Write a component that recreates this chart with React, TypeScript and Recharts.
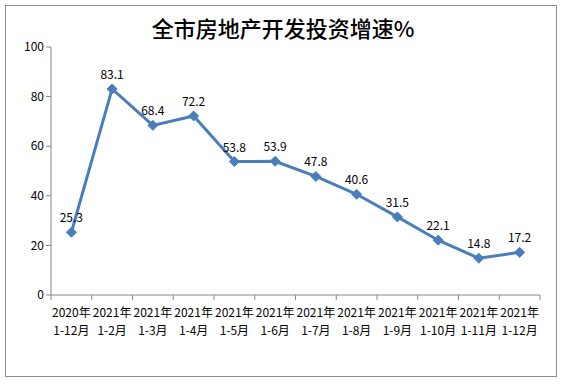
import { LineChart, Line, XAxis, YAxis, LabelList } from 'recharts'

const periods = [
  '2020年|1-12月',
  '2021年|1-2月',
  '2021年|1-3月',
  '2021年|1-4月',
  '2021年|1-5月',
  '2021年|1-6月',
  '2021年|1-7月',
  '2021年|1-8月',
  '2021年|1-9月',
  '2021年|1-10月',
  '2021年|1-11月',
  '2021年|1-12月'
]
const growth = [25.3, 83.1, 68.4, 72.2, 53.8, 53.9, 47.8, 40.6, 31.5, 22.1, 14.8, 17.2]
const yTicks = [0, 20, 40, 60, 80, 100]

const data = periods.map((p, i) => ({ name: p, value: growth[i] }))

const W = 566
const H = 386
const margin = { top: 47, right: 26, bottom: 0, left: 11 }
const yAxisWidth = 40
const step = (W - margin.left - margin.right - yAxisWidth) / periods.length
const font = '"Noto Sans CJK SC", "Noto Sans", sans-serif'

function PeriodTick(props: any) {
  const { x, y, payload, index } = props
  const [year, months] = String(payload.value).split('|')
  return (
    <g>
      <line x1={x - step / 2} y1={y - 8} x2={x - step / 2} y2={y - 3} stroke="#868686" />
      {index === periods.length - 1 && (
        <line x1={x + step / 2} y1={y - 8} x2={x + step / 2} y2={y - 3} stroke="#868686" />
      )}
      <text x={x} y={y + 14} textAnchor="middle" fontSize={12} fill="#000" fontFamily={font}>
        {year}
      </text>
      <text x={x} y={y + 32} textAnchor="middle" fontSize={12} fill="#000" fontFamily={font}>
        {months}
      </text>
    </g>
  )
}

function Diamond(props: any) {
  const { cx, cy } = props
  if (cx == null || cy == null) return null
  const r = 5
  return (
    <polygon
      points={`${cx},${cy - r} ${cx + r},${cy} ${cx},${cy + r} ${cx - r},${cy}`}
      fill="#4a7ebb"
      stroke="#4a7ebb"
    />
  )
}

export default function App() {
  return (
    <div style={{ position: 'absolute', left: 0, top: 0, width: W, height: H, background: '#fff' }}>
      <div
        style={{
          position: 'absolute',
          left: 5,
          top: 5,
          width: 552,
          height: 372,
          border: '1px solid #8c8c8c',
          boxSizing: 'border-box'
        }}
      />
      <div
        style={{
          position: 'absolute',
          left: 0,
          top: 11,
          width: W,
          textAlign: 'center',
          fontFamily: font,
          fontSize: 22,
          fontWeight: 500,
          color: '#000'
        }}
      >
        全市房地产开发投资增速%
      </div>
      <div style={{ position: 'absolute', left: 0, top: 0 }}>
        <LineChart width={W} height={H} data={data} margin={margin}>
          <XAxis
            dataKey="name"
            scale="band"
            interval={0}
            height={91}
            stroke="#868686"
            tickLine={false}
            tick={<PeriodTick />}
          />
          <YAxis
            domain={[0, 100]}
            ticks={yTicks}
            width={yAxisWidth}
            stroke="#868686"
            tickSize={5}
            tick={{ fill: '#000', fontSize: 12, fontFamily: font }}
          />
          <Line
            type="linear"
            dataKey="value"
            stroke="#4a7ebb"
            strokeWidth={3}
            dot={<Diamond />}
            activeDot={false}
            isAnimationActive={false}
          >
            <LabelList
              dataKey="value"
              position="top"
              offset={10}
              fill="#000"
              fontSize={12}
              fontFamily={font}
            />
          </Line>
        </LineChart>
      </div>
    </div>
  )
}
